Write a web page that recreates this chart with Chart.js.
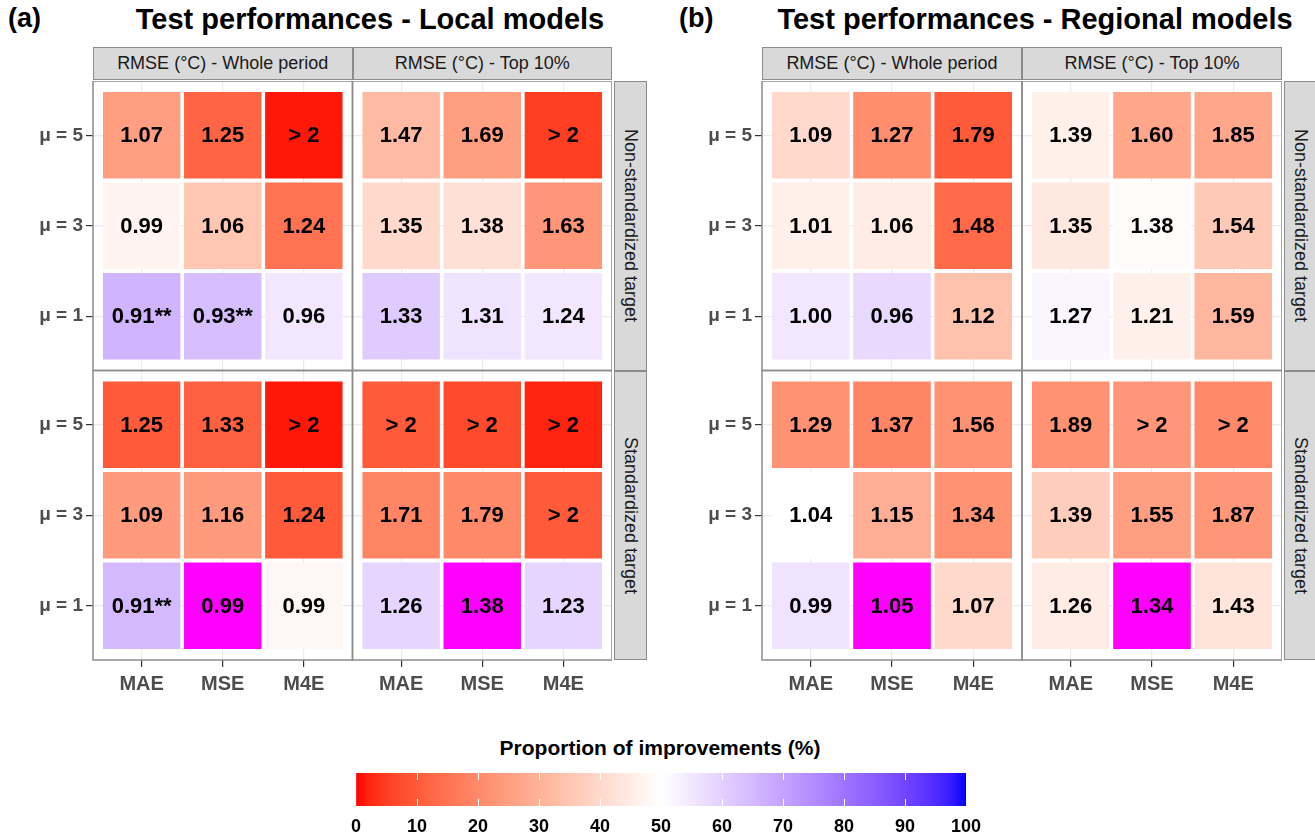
<!DOCTYPE html>
<html>
<head>
<meta charset="utf-8">
<script src="https://cdn.jsdelivr.net/npm/chart.js@4.4.1/dist/chart.umd.min.js"></script>
<style>
  body { margin: 0; background: #fff; width: 1315px; height: 834px; position: relative; overflow: hidden; font-family: "Liberation Sans", Arial, sans-serif; }
  canvas { position: absolute; }
  .tag { position: absolute; font-size: 27px; font-weight: bold; color: #000; }
  .titre { position: absolute; font-size: 29px; font-weight: bold; color: #000; white-space: nowrap; transform: translateX(-50%); }
  .strip { position: absolute; background: #d9d9d9; border: 1.5px solid #8c8c8c; box-sizing: border-box; display: flex; align-items: center; justify-content: center; font-size: 18px; color: #1a1a1a; white-space: nowrap; }
  .strip.v { writing-mode: vertical-rl; }
  .leg-titre { position: absolute; left: 660px; top: 736px; transform: translateX(-50%); font-size: 21px; font-weight: bold; white-space: nowrap; }
</style>
</head>
<body>
<div class="tag" style="left:8px; top:3px;">(a)</div>
<div class="titre" style="left:370px; top:3px;">Test performances - Local models</div>
<div class="tag" style="left:679px; top:3px;">(b)</div>
<div class="titre" style="left:1035px; top:3px;">Test performances - Regional models</div>
<canvas id="panneauA" width="612" height="619" style="left:0px; top:81px;"></canvas>
<canvas id="panneauB" width="620" height="619" style="left:662px; top:81px;"></canvas>
<div class="leg-titre">Proportion of improvements (%)</div>
<canvas id="legende" width="670" height="63" style="left:326px; top:773px;"></canvas>

<script>
const pertes = ['MAE', 'MSE', 'M4E'];
const niveauxMu = ['μ = 1', 'μ = 3', 'μ = 5'];
const periodes = ['RMSE (°C) - Whole period', 'RMSE (°C) - Top 10%'];
const cibles = ['Non-standardized target', 'Standardized target'];
const graduationsLegende = [0, 10, 20, 30, 40, 50, 60, 70, 80, 90, 100];

// lignes de haut en bas : μ = 5, μ = 3, μ = 1 ; colonnes : MAE, MSE, M4E
const localNonStdTout = [['1.07', '1.25', '> 2'], ['0.99', '1.06', '1.24'], ['0.91**', '0.93**', '0.96']];
const localNonStdTop = [['1.47', '1.69', '> 2'], ['1.35', '1.38', '1.63'], ['1.33', '1.31', '1.24']];
const localStdTout = [['1.25', '1.33', '> 2'], ['1.09', '1.16', '1.24'], ['0.91**', '0.99', '0.99']];
const localStdTop = [['> 2', '> 2', '> 2'], ['1.71', '1.79', '> 2'], ['1.26', '1.38', '1.23']];

const regNonStdTout = [['1.09', '1.27', '1.79'], ['1.01', '1.06', '1.48'], ['1.00', '0.96', '1.12']];
const regNonStdTop = [['1.39', '1.60', '1.85'], ['1.35', '1.38', '1.54'], ['1.27', '1.21', '1.59']];
const regStdTout = [['1.29', '1.37', '1.56'], ['1.04', '1.15', '1.34'], ['0.99', '1.05', '1.07']];
const regStdTop = [['1.89', '> 2', '> 2'], ['1.39', '1.55', '1.87'], ['1.26', '1.34', '1.43']];

// proportion d'améliorations (%) ; null = modèle de référence (magenta)
const propLocalNonStdTout = [[25, 12, 1], [47, 35, 15], [66, 64, 55]];
const propLocalNonStdTop = [[32, 25, 5], [40, 42, 23], [61, 56, 55]];
const propLocalStdTout = [[10, 11, 1], [24, 24, 10], [65, null, 48]];
const propLocalStdTop = [[10, 7, 2], [19, 20, 10], [59, null, 59]];

const propRegNonStdTout = [[40, 21, 10], [46, 45, 13], [55, 58, 34]];
const propRegNonStdTop = [[46, 27, 27], [44, 49, 36], [52, 46, 31]];
const propRegStdTout = [[22, 19, 22], [50, 29, 22], [56, null, 40]];
const propRegStdTop = [[22, 23, 20], [37, 25, 23], [45, null, 43]];

Chart.defaults.font.family = '"Liberation Sans", Arial, sans-serif';

// gradient2 rouge / blanc / bleu, interpolé en Lab comme ggplot
const BLANC_REF = [0.95047, 1, 1.08883];
function versLab(rgb) {
  const lin = rgb.map(v => { v /= 255; return v <= 0.04045 ? v / 12.92 : Math.pow((v + 0.055) / 1.055, 2.4); });
  const xyz = [
    0.4124 * lin[0] + 0.3576 * lin[1] + 0.1805 * lin[2],
    0.2126 * lin[0] + 0.7152 * lin[1] + 0.0722 * lin[2],
    0.0193 * lin[0] + 0.1192 * lin[1] + 0.9505 * lin[2]
  ];
  const f = xyz.map((v, i) => { v /= BLANC_REF[i]; return v > 0.008856 ? Math.cbrt(v) : 7.787 * v + 16 / 116; });
  return [116 * f[1] - 16, 500 * (f[0] - f[1]), 200 * (f[1] - f[2])];
}
function versRgb(lab) {
  const fy = (lab[0] + 16) / 116, fx = fy + lab[1] / 500, fz = fy - lab[2] / 200;
  const xyz = [fx, fy, fz].map((f, i) => (f > 0.206893 ? f * f * f : (f - 16 / 116) / 7.787) * BLANC_REF[i]);
  const lin = [
    3.2406 * xyz[0] - 1.5372 * xyz[1] - 0.4986 * xyz[2],
    -0.9689 * xyz[0] + 1.8758 * xyz[1] + 0.0415 * xyz[2],
    0.0557 * xyz[0] - 0.2040 * xyz[1] + 1.0570 * xyz[2]
  ];
  return lin.map(v => {
    v = Math.min(1, Math.max(0, v));
    v = v <= 0.0031308 ? 12.92 * v : 1.055 * Math.pow(v, 1 / 2.4) - 0.055;
    return Math.round(v * 255);
  });
}
const ROUGE = versLab([255, 0, 0]), BLANC = versLab([255, 255, 255]), BLEU = versLab([0, 0, 255]);
function couleur(p) {
  if (p === null) return '#ff00ff';
  const [de, vers, t] = p <= 50 ? [ROUGE, BLANC, p / 50] : [BLANC, BLEU, (p - 50) / 50];
  const rgb = versRgb(de.map((v, i) => v + (vers[i] - v) * t));
  return `rgb(${rgb[0]},${rgb[1]},${rgb[2]})`;
}

const ETENDUE = 3.2; // 3 catégories + 0.6 de marge de chaque côté
const positions = [1, 2, 3, 1 + ETENDUE, 2 + ETENDUE, 3 + ETENDUE];

const bordures = {
  id: 'bordures',
  afterDatasetsDraw(chart) {
    const ctx = chart.ctx;
    const meta = chart.getDatasetMeta(0);
    const donnees = chart.data.datasets[0].data;
    ctx.save();
    ctx.font = 'bold 22px "Liberation Sans", Arial, sans-serif';
    ctx.fillStyle = '#000';
    ctx.textAlign = 'center';
    ctx.textBaseline = 'middle';
    meta.data.forEach((barre, i) => {
      const { x, y, base } = barre.getProps(['x', 'y', 'base'], true);
      ctx.fillText(donnees[i].texte, x, (y + base) / 2 + 1);
    });
    const sx = chart.scales.x, sy = chart.scales.y;
    const bornes = [[0.4, 0.4 + ETENDUE], [0.4 + ETENDUE, 0.4 + 2 * ETENDUE]];
    ctx.strokeStyle = '#8c8c8c';
    ctx.lineWidth = 1.5;
    bornes.forEach(([x0, x1]) => bornes.forEach(([y0, y1]) => {
      const gauche = sx.getPixelForValue(x0), droite = sx.getPixelForValue(x1);
      const haut = sy.getPixelForValue(y1), bas = sy.getPixelForValue(y0);
      ctx.strokeRect(gauche, haut, droite - gauche, bas - haut);
    }));
    ctx.restore();
  }
};

function sansMarge(axe) {
  axe.paddingLeft = 0; axe.paddingRight = 0; axe.paddingTop = 0; axe.paddingBottom = 0;
}

function creerPanneau(idCanvas, largeurAxeY, facettes) {
  const cellules = [];
  const couleurs = [];
  facettes.forEach((ligneFacette, r) => ligneFacette.forEach((f, c) => {
    f.rmse.forEach((ligne, i) => ligne.forEach((texte, j) => {
      const x = c * ETENDUE + j + 1;
      const y = (1 - r) * ETENDUE + (2 - i) + 1;
      cellules.push({ x, y: [y - 0.4775, y + 0.4775], texte });
      couleurs.push(couleur(f.prop[i][j]));
    }));
  }));

  const axeCommun = {
    type: 'linear',
    min: 0.4,
    max: 0.4 + 2 * ETENDUE,
    offset: false,
    afterBuildTicks: (axe) => { axe.ticks = positions.map(v => ({ value: v })); },
    grid: { offset: false, color: '#ebebeb', lineWidth: 1.2, tickColor: '#333', tickLength: 7, tickWidth: 1.2 },
    border: { display: false },
  };

  const canvas = document.getElementById(idCanvas);
  const chart = new Chart(canvas, {
    type: 'bar',
    data: {
      datasets: [{
        data: cellules,
        backgroundColor: couleurs,
        borderWidth: 0,
        barPercentage: 0.955,
        categoryPercentage: 1
      }]
    },
    options: {
      responsive: false,
      animation: false,
      layout: { padding: 0 },
      plugins: { legend: { display: false }, tooltip: { enabled: false } },
      scales: {
        x: {
          ...axeCommun,
          ticks: { color: '#4d4d4d', font: { size: 20, weight: 'bold' }, padding: 5, callback: (v, i) => pertes[i % 3] },
          afterFit: (axe) => { axe.height = 40; sansMarge(axe); }
        },
        y: {
          ...axeCommun,
          ticks: { color: '#4d4d4d', font: { size: 19, weight: 'bold' }, padding: 3, callback: (v, i) => niveauxMu[i % 3] },
          afterFit: (axe) => { axe.width = largeurAxeY; sansMarge(axe); }
        }
      }
    },
    plugins: [bordures]
  });

  // bandeaux de facettes
  const ox = canvas.offsetLeft, oy = canvas.offsetTop;
  const sx = chart.scales.x, sy = chart.scales.y;
  periodes.forEach((texte, c) => {
    const g = sx.getPixelForValue(0.4 + c * ETENDUE), d = sx.getPixelForValue(0.4 + (c + 1) * ETENDUE);
    const div = document.createElement('div');
    div.className = 'strip';
    div.textContent = texte;
    Object.assign(div.style, { left: (ox + g) + 'px', top: (oy + chart.chartArea.top - 34) + 'px', width: (d - g) + 'px', height: '33px' });
    document.body.appendChild(div);
  });
  cibles.forEach((texte, r) => {
    const h = sy.getPixelForValue(0.4 + (2 - r) * ETENDUE), b = sy.getPixelForValue(0.4 + (1 - r) * ETENDUE);
    const div = document.createElement('div');
    div.className = 'strip v';
    div.textContent = texte;
    Object.assign(div.style, { left: (ox + chart.chartArea.right + 2) + 'px', top: (oy + h) + 'px', width: '33px', height: (b - h) + 'px' });
    document.body.appendChild(div);
  });
  return chart;
}

creerPanneau('panneauA', 93, [
  [{ rmse: localNonStdTout, prop: propLocalNonStdTout }, { rmse: localNonStdTop, prop: propLocalNonStdTop }],
  [{ rmse: localStdTout, prop: propLocalStdTout }, { rmse: localStdTop, prop: propLocalStdTop }]
]);
creerPanneau('panneauB', 100, [
  [{ rmse: regNonStdTout, prop: propRegNonStdTout }, { rmse: regNonStdTop, prop: propRegNonStdTop }],
  [{ rmse: regStdTout, prop: propRegStdTout }, { rmse: regStdTop, prop: propRegStdTop }]
]);

// barre de couleur de la légende
new Chart(document.getElementById('legende'), {
  type: 'bar',
  data: {
    labels: [''],
    datasets: [{
      data: [[graduationsLegende[0], graduationsLegende[graduationsLegende.length - 1]]],
      backgroundColor: (contexte) => {
        const { chart } = contexte;
        const zone = chart.chartArea;
        if (!zone) return '#fff';
        const degrade = chart.ctx.createLinearGradient(zone.left, 0, zone.right, 0);
        for (let p = 0; p <= 100; p += 2) degrade.addColorStop(p / 100, couleur(p));
        return degrade;
      },
      borderWidth: 0,
      barPercentage: 1,
      categoryPercentage: 1
    }]
  },
  options: {
    indexAxis: 'y',
    responsive: false,
    animation: false,
    layout: { padding: { left: 30, right: 30 } },
    plugins: { legend: { display: false }, tooltip: { enabled: false } },
    scales: {
      x: {
        type: 'linear',
        min: 0,
        max: 100,
        afterBuildTicks: (axe) => { axe.ticks = graduationsLegende.map(v => ({ value: v })); },
        grid: {
          color: (c) => (c.tick && (c.tick.value === 0 || c.tick.value === 100)) ? 'rgba(0,0,0,0)' : '#ffffff',
          lineWidth: 1, drawTicks: false, z: 1
        },
        border: { display: false, dash: [7, 19, 7] },
        ticks: { color: '#000', font: { size: 18, weight: 'bold' }, padding: 10 },
        afterFit: (axe) => { axe.height = 30; sansMarge(axe); }
      },
      y: { display: false }
    }
  }
});
</script>
</body>
</html>
